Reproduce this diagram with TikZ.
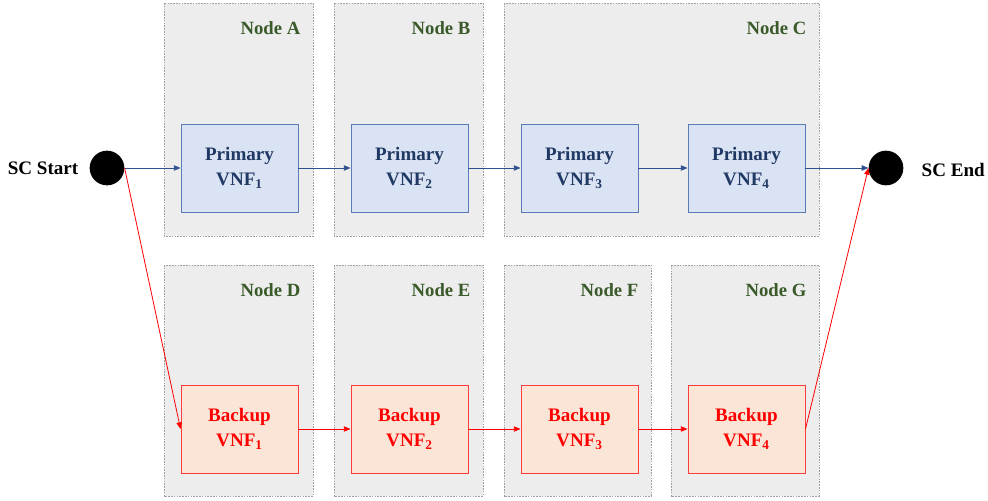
\documentclass[tikz,border=0pt]{standalone}
\usepackage{fontspec}
\setmainfont{Liberation Serif}
\usetikzlibrary{arrows.meta}
\definecolor{hostfill}{HTML}{EDEDED}
\definecolor{hostline}{HTML}{A0A0A0}
\definecolor{hosttext}{HTML}{3A5A2A}
\definecolor{primfill}{HTML}{DAE3F3}
\definecolor{primline}{HTML}{5A7AB8}
\definecolor{primtext}{HTML}{203864}
\definecolor{bakfill}{HTML}{FBE5D6}
\definecolor{bakline}{HTML}{FF3B3B}
\definecolor{baktext}{HTML}{FF0000}
\definecolor{bluearrow}{HTML}{2F4F8F}
\tikzset{
  host/.style={draw=hostline, fill=hostfill, dash pattern=on 1.2pt off 0.9pt, line width=0.6pt},
  hostlabel/.style={font=\bfseries\fontsize{14}{16}\selectfont, text=hosttext, anchor=north east},
  vnf/.style={line width=0.7pt, minimum width=87.75pt, minimum height=66pt,
    align=center, font=\bfseries\fontsize{14.3}{19}\selectfont, inner sep=0pt,
    execute at begin node=\rule{0pt}{15pt}},
  prim/.style={vnf, draw=primline, fill=primfill, text=primtext},
  bak/.style={vnf, draw=bakline, fill=bakfill, text=baktext},
  term/.style={circle, fill=black, minimum size=26pt, inner sep=0pt},
  termlabel/.style={font=\bfseries\fontsize{14.3}{17}\selectfont},
  bflow/.style={draw=bluearrow, line width=0.6pt, -{Triangle[length=5pt,width=4pt]}},
  rflow/.style={draw=baktext, line width=0.6pt, -{Triangle[length=5pt,width=4pt]}},
}
\begin{document}
\begin{tikzpicture}[x=0.75pt, y=-0.75pt]
  \useasboundingbox (0,0) rectangle (988,500);
  % host machines
  \draw[host] (164,3) rectangle (313,236);
  \draw[host] (334,3) rectangle (483,236);
  \draw[host] (504,3) rectangle (819,236);
  \draw[host] (164,265) rectangle (313,496);
  \draw[host] (334,265) rectangle (483,496);
  \draw[host] (504,265) rectangle (651,496);
  \draw[host] (671,265) rectangle (819,496);
  \node[hostlabel] (lA) at (305,17) {Node A};
  \node[hostlabel] (lB) at (475,17) {Node B};
  \node[hostlabel] (lC) at (811,17) {Node C};
  \node[hostlabel] (lD) at (305,279) {Node D};
  \node[hostlabel] (lE) at (475,279) {Node E};
  \node[hostlabel] (lF) at (643,279) {Node F};
  \node[hostlabel] (lG) at (811,279) {Node G};
  % primary chain
  \node[prim] (p1) at (239.5,168) {Primary\\VNF\textsubscript{1}};
  \node[prim] (p2) at (409.5,168) {Primary\\VNF\textsubscript{2}};
  \node[prim] (p3) at (579.5,168) {Primary\\VNF\textsubscript{3}};
  \node[prim] (p4) at (746.5,168) {Primary\\VNF\textsubscript{4}};
  % backup chain
  \node[bak] (b1) at (239.5,429) {Backup\\VNF\textsubscript{1}};
  \node[bak] (b2) at (409.5,429) {Backup\\VNF\textsubscript{2}};
  \node[bak] (b3) at (579.5,429) {Backup\\VNF\textsubscript{3}};
  \node[bak] (b4) at (746.5,429) {Backup\\VNF\textsubscript{4}};
  % endpoints
  \node[term] (s) at (107,168) {};
  \node[term] (e) at (886,168) {};
  \node[termlabel, anchor=east] (sl) at (83,168) {SC Start};
  \node[termlabel, anchor=west] (el) at (917,170) {SC End};
  % primary path
  \draw[bflow] (s) -- (p1);
  \draw[bflow] (p1) -- (p2);
  \draw[bflow] (p2) -- (p3);
  \draw[bflow] (p3) -- (p4);
  \draw[bflow] (p4) -- (e);
  % backup path
  \draw[rflow] (s.east) -- (b1.west);
  \draw[rflow] (b1) -- (b2);
  \draw[rflow] (b2) -- (b3);
  \draw[rflow] (b3) -- (b4);
  \draw[rflow] (b4.east) -- (e.west);
\end{tikzpicture}
\end{document}
